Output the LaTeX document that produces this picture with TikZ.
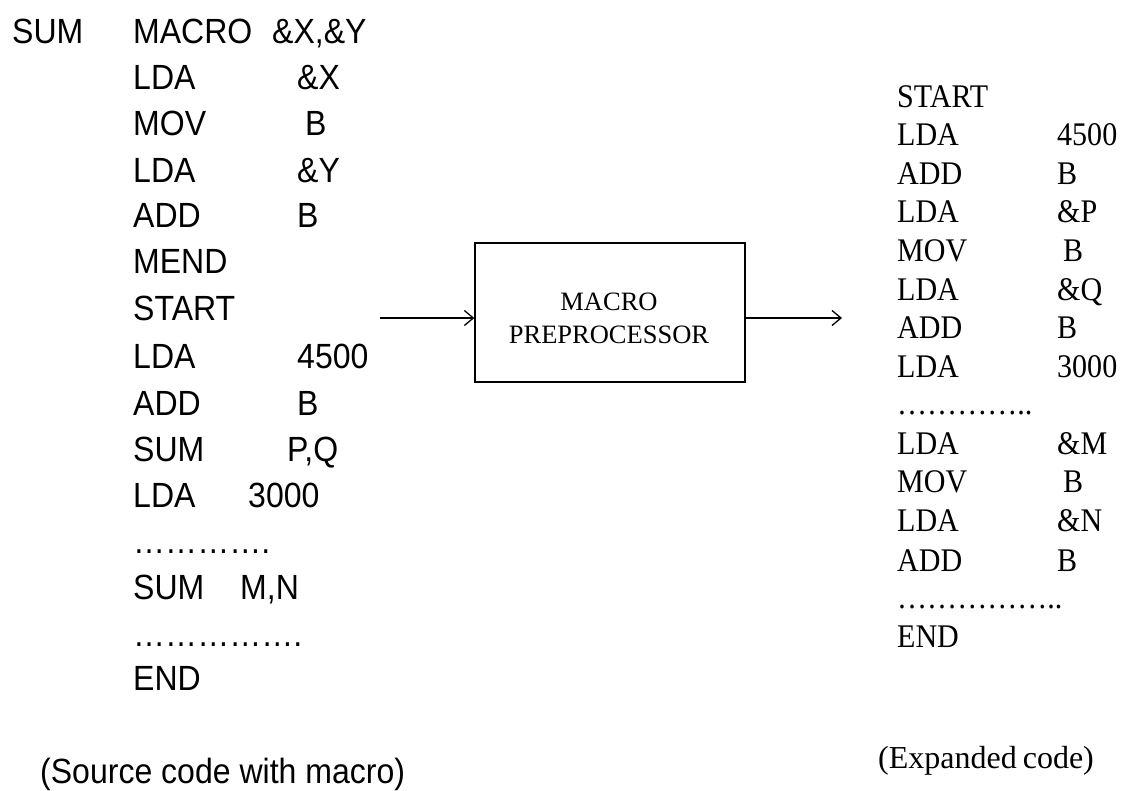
\documentclass[tikz,border=0pt]{standalone}
\usepackage{fontspec}
\usetikzlibrary{arrows.meta}
\newfontfamily\srcfont[FakeStretch=0.915]{Liberation Sans}
\newfontfamily\expfont[FakeStretch=0.91]{Liberation Serif}
\newfontfamily\capfont{Liberation Serif}
\tikzset{
  src/.style={anchor=base west,inner sep=0pt,font=\srcfont\fontsize{35}{40}\selectfont},
  exp/.style={anchor=base west,inner sep=0pt,font=\expfont\fontsize{33}{38}\selectfont},
  expcap/.style={anchor=base west,inner sep=0pt,font=\capfont\fontsize{32}{38}\selectfont},
  ppbox/.style={draw,line width=1.3pt,minimum width=270pt,minimum height=139pt,inner sep=0pt},
  pptext/.style={align=center,inner sep=0pt,font=\capfont\fontsize{26.5}{33}\selectfont},
  flow/.style={line width=1.3pt,-{Straight Barb[length=9pt,width=15pt,line width=1.3pt]}}
}
\begin{document}
\begin{tikzpicture}[x=1pt,y=-1pt]
\useasboundingbox (0,0) rectangle (1130,790);
% left column
\node[src] (s0) at (12,43) {SUM};
\node[src] (s1a) at (133,43) {MACRO};
\node[src] (s1b) at (272,43) {\&X,\&Y};
\node[src] (s2a) at (133,89) {LDA};
\node[src] (s2b) at (297,89) {\&X};
\node[src] (s3a) at (133,135) {MOV};
\node[src] (s3b) at (305,135) {B};
\node[src] (s4a) at (133,182) {LDA};
\node[src] (s4b) at (297,182) {\&Y};
\node[src] (s5a) at (133,227) {ADD};
\node[src] (s5b) at (297,227) {B};
\node[src] (s6a) at (133,273) {MEND};
\node[src] (s7a) at (133,320) {START};
\node[src] (s8a) at (133,368) {LDA};
\node[src] (s8b) at (297,368) {4500};
\node[src] (s9a) at (133,415) {ADD};
\node[src] (s9b) at (297,415) {B};
\node[src] (s10a) at (133,461) {SUM};
\node[src] (s10b) at (287,461) {P,Q};
\node[src] (s11a) at (133,507) {LDA};
\node[src] (s11b) at (248,507) {3000};
\node[src] (s12a) at (133,553) {………….};
\node[src] (s13a) at (133,599) {SUM};
\node[src] (s13b) at (240,599) {M,N};
\node[src] (s14a) at (133,646) {…………….};
\node[src] (s15a) at (133,690) {END};
\node[src] (scap) at (40,783) {(Source code with macro)};
% box and arrows
\node[ppbox] (pp) at (610,312.5) {};
\node[pptext] (ppt) at (609,318) {MACRO\\PREPROCESSOR};
\coordinate (in) at (380,318);
\coordinate (out) at (842,318);
\draw[flow] (in) -- (in -| pp.west);
\draw[flow] (out -| pp.east) -- (out);
% right column
\node[exp] (e1a) at (897,107) {START};
\node[exp] (e2a) at (897,145.5) {LDA};
\node[exp] (e2b) at (1057,145.5) {4500};
\node[exp] (e3a) at (897,184) {ADD};
\node[exp] (e3b) at (1057,184) {B};
\node[exp] (e4a) at (897,222.5) {LDA};
\node[exp] (e4b) at (1057,222.5) {\&P};
\node[exp] (e5a) at (897,261) {MOV};
\node[exp] (e5b) at (1063,261) {B};
\node[exp] (e6a) at (897,300) {LDA};
\node[exp] (e6b) at (1057,300) {\&Q};
\node[exp] (e7a) at (897,338.5) {ADD};
\node[exp] (e7b) at (1057,338.5) {B};
\node[exp] (e8a) at (897,377) {LDA};
\node[exp] (e8b) at (1057,377) {3000};
\node[exp] (e9a) at (897,414) {…………..};
\node[exp] (e10a) at (897,454) {LDA};
\node[exp] (e10b) at (1057,454) {\&M};
\node[exp] (e11a) at (897,492) {MOV};
\node[exp] (e11b) at (1063,492) {B};
\node[exp] (e12a) at (897,531) {LDA};
\node[exp] (e12b) at (1057,531) {\&N};
\node[exp] (e13a) at (897,571) {ADD};
\node[exp] (e13b) at (1057,571) {B};
\node[exp] (e14a) at (897,608) {……………..};
\node[exp] (e15a) at (897,647) {END};
\node[expcap] (ecap) at (878,768) {(Expanded\hspace{-2pt} code)};
\end{tikzpicture}
\end{document}
